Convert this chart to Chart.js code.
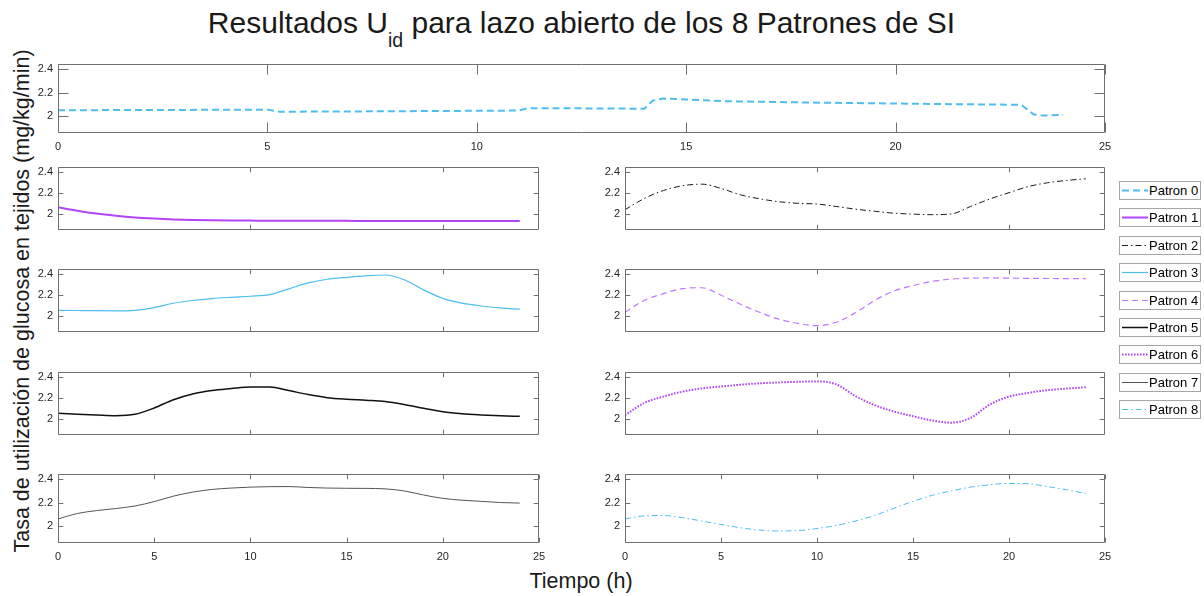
<!DOCTYPE html>
<html>
<head>
<meta charset="utf-8">
<script src="https://cdn.jsdelivr.net/npm/chart.js@4.4.1/dist/chart.umd.min.js"></script>
<style>
  html, body { margin: 0; padding: 0; background: #fff; }
  #fig { position: relative; width: 1204px; height: 596px; overflow: hidden;
         font-family: 'Liberation Sans', Arial, Helvetica, sans-serif; color: #000; }
  #fig canvas.panel { position: absolute; }
  .title { position: absolute; left: 0; width: 1163px; top: 8px; text-align: center;
           font-size: 30px; line-height: 30px; white-space: nowrap; color: #1a1a1a; }
  .title sub { font-size: 19.5px; line-height: 0; vertical-align: -14px; }
  .ylabel { position: absolute; left: 22px; top: 301px; white-space: nowrap;
            font-size: 21.5px; line-height: 22px; color: #1a1a1a;
            transform: translate(-50%, -50%) rotate(-90deg); }
  .xlabel { position: absolute; left: 581px; top: 581px; white-space: nowrap;
            font-size: 21.5px; line-height: 22px; color: #1a1a1a;
            transform: translate(-50%, -50%); }
  .leg { position: absolute; left: 1119px; width: 82px; height: 19px; box-sizing: border-box;
         border: 1px solid #a6a6a6; background: #fff; }
  .leg canvas { position: absolute; left: 1px; top: 0; }
  .leg span { position: absolute; left: 29px; top: 0; font-size: 13px; line-height: 17px;
              white-space: nowrap; color: #000; }
</style>
</head>
<body>
<div id="fig">
  <div class="title">Resultados U<sub>id</sub> para lazo abierto de los 8 Patrones de SI</div>
  <div class="ylabel">Tasa de utilización de glucosa en tejidos (mg/kg/min)</div>
  <div class="xlabel">Tiempo (h)</div>
</div>
<script>
// ---- data -------------------------------------------------------------
const hours = [0, 1, 2, 3, 4, 5, 6, 7, 8, 9, 10, 11, 12, 13, 14, 15, 16, 17, 18, 19, 20, 21, 22, 23, 24];

// Patron 0 has step changes, so it keeps its own time base
const patron0Hours = [0, 2.5, 5, 5.3, 8, 11, 11.2, 12.5, 14, 14.2, 14.45, 15, 16, 17, 18, 20, 22, 23, 23.3, 23.5, 24];
const patron0 = [2.047, 2.049, 2.052, 2.034, 2.038, 2.044, 2.063, 2.063, 2.060, 2.130, 2.148, 2.140,
                 2.124, 2.119, 2.113, 2.105, 2.097, 2.094, 2.010, 2.001, 2.006];

const patron1 = [2.067, 2.035, 2.008, 1.988, 1.972, 1.961, 1.953, 1.948, 1.945, 1.943, 1.942, 1.941,
                 1.941, 1.940, 1.940, 1.940, 1.939, 1.939, 1.939, 1.939, 1.938, 1.938, 1.938, 1.938, 1.938];
const patron2 = [2.044, 2.150, 2.225, 2.270, 2.285, 2.245, 2.185, 2.148, 2.120, 2.105, 2.098, 2.075,
                 2.050, 2.030, 2.012, 2.003, 1.998, 2.005, 2.075, 2.145, 2.205, 2.262, 2.298, 2.320, 2.335];
const patron3 = [2.058, 2.056, 2.054, 2.053, 2.058, 2.083, 2.124, 2.150, 2.168, 2.180, 2.190, 2.205,
                 2.260, 2.315, 2.350, 2.368, 2.382, 2.390, 2.345, 2.250, 2.170, 2.125, 2.098, 2.080, 2.068];
const patron4 = [2.040, 2.150, 2.215, 2.262, 2.270, 2.200, 2.115, 2.040, 1.975, 1.935, 1.913, 1.945,
                 2.035, 2.150, 2.240, 2.290, 2.330, 2.352, 2.361, 2.362, 2.360, 2.358, 2.357, 2.356, 2.355];
const patron5 = [2.058, 2.050, 2.042, 2.035, 2.048, 2.108, 2.186, 2.240, 2.272, 2.290, 2.305, 2.305,
                 2.272, 2.234, 2.205, 2.190, 2.180, 2.168, 2.140, 2.105, 2.072, 2.053, 2.042, 2.034, 2.029];
const patron6 = [2.040, 2.155, 2.215, 2.262, 2.292, 2.310, 2.326, 2.340, 2.348, 2.354, 2.358, 2.330,
                 2.220, 2.135, 2.075, 2.030, 1.990, 1.970, 2.015, 2.140, 2.215, 2.250, 2.275, 2.290, 2.303];
const patron7 = [2.058, 2.105, 2.130, 2.148, 2.170, 2.208, 2.255, 2.290, 2.313, 2.325, 2.333, 2.337,
                 2.338, 2.330, 2.325, 2.323, 2.322, 2.318, 2.300, 2.265, 2.236, 2.220, 2.210, 2.200, 2.195];
const patron8 = [2.058, 2.085, 2.088, 2.068, 2.040, 2.010, 1.982, 1.962, 1.954, 1.958, 1.975, 2.002,
                 2.040, 2.088, 2.150, 2.210, 2.262, 2.300, 2.333, 2.354, 2.365, 2.362, 2.338, 2.310, 2.278];

const seriesNames = ['Patron 0', 'Patron 1', 'Patron 2', 'Patron 3', 'Patron 4',
                     'Patron 5', 'Patron 6', 'Patron 7', 'Patron 8'];

const yTickValues = [2, 2.2, 2.4];
const yTickLabels = ['2', '2.2', '2.4'];
const xTicksFine = [0, 5, 10, 15, 20, 25];
const xTicksCoarse = [0, 10, 20];
const xTickLabels = ['0', '5', '10', '15', '20', '25'];

// ---- styles -----------------------------------------------------------
const FONT = "'Liberation Sans', Arial, Helvetica, sans-serif";
const series = [
  { x: patron0Hours, y: patron0, color: '#4DBEEE', width: 2,   dash: [7, 4],       smooth: false },
  { x: hours, y: patron1, color: '#B146F5', width: 2,   dash: [],           smooth: true },
  { x: hours, y: patron2, color: '#1a1a1a', width: 1,   dash: [6, 3, 1.5, 3], smooth: true },
  { x: hours, y: patron3, color: '#4DBEEE', width: 1.2, dash: [],           smooth: true },
  { x: hours, y: patron4, color: '#C075FF', width: 1.2, dash: [6, 4],       smooth: true },
  { x: hours, y: patron5, color: '#111111', width: 1.5, dash: [],           smooth: true },
  { x: hours, y: patron6, color: '#B146F5', width: 2,   dash: [1.6, 1.4],   smooth: true },
  { x: hours, y: patron7, color: '#555555', width: 1,   dash: [],           smooth: true },
  { x: hours, y: patron8, color: '#4DBEEE', width: 1,   dash: [6, 3, 1.5, 3], smooth: true }
];

// panel rectangles (plot areas) in page pixels
const panels = [
  { s: 0, left: 58,  top: 58,  w: 1047, h: 75, xt: xTicksFine,   labels: true,  tick: 10 },
  { s: 1, left: 58,  top: 161, w: 481,  h: 75, xt: xTicksCoarse, labels: false, tick: 4.8 },
  { s: 2, left: 625, top: 161, w: 480,  h: 75, xt: xTicksCoarse, labels: false, tick: 4.8 },
  { s: 3, left: 58,  top: 263, w: 481,  h: 75, xt: xTicksCoarse, labels: false, tick: 4.8 },
  { s: 4, left: 625, top: 263, w: 480,  h: 75, xt: xTicksCoarse, labels: false, tick: 4.8 },
  { s: 5, left: 58,  top: 366, w: 481,  h: 75, xt: xTicksCoarse, labels: false, tick: 4.8 },
  { s: 6, left: 625, top: 366, w: 480,  h: 75, xt: xTicksCoarse, labels: false, tick: 4.8 },
  { s: 7, left: 58,  top: 468, w: 481,  h: 75, xt: xTicksFine,   labels: true,  tick: 4.8 },
  { s: 8, left: 625, top: 468, w: 480,  h: 75, xt: xTicksFine,   labels: true,  tick: 4.8 }
];

// boxed axes with inward ticks on all four sides
const axesBox = {
  id: 'axesBox',
  afterDraw(chart, args, opts) {
    const { ctx, chartArea: a, scales } = chart;
    const L = Math.round(a.left) + 0.5, R = Math.round(a.right) - 0.5;
    const T = Math.round(a.top) + 0.5, B = Math.round(a.bottom) - 0.5;
    const len = opts.tickLength;
    ctx.save();
    ctx.strokeStyle = '#6f6f6f';
    ctx.lineWidth = 1;
    ctx.setLineDash([]);
    ctx.beginPath();
    ctx.rect(L, T, R - L, B - T);
    scales.x.ticks.forEach(t => {
      const px = Math.round(scales.x.getPixelForValue(t.value)) + 0.5;
      ctx.moveTo(px, B); ctx.lineTo(px, B - len);
      ctx.moveTo(px, T); ctx.lineTo(px, T + len);
    });
    scales.y.ticks.forEach(t => {
      const py = Math.round(scales.y.getPixelForValue(t.value)) + 0.5;
      ctx.moveTo(L, py); ctx.lineTo(L + len, py);
      ctx.moveTo(R, py); ctx.lineTo(R - len, py);
    });
    ctx.stroke();
    ctx.restore();
  }
};

const fig = document.getElementById('fig');
const PAD_L = 45, PAD_R = 14, PAD_T = 6;

panels.forEach(p => {
  const st = series[p.s];
  const padB = p.labels ? 24 : 6;
  const cv = document.createElement('canvas');
  cv.className = 'panel';
  cv.width = p.w + PAD_L + PAD_R;
  cv.height = p.h + PAD_T + padB;
  cv.style.left = (p.left - PAD_L) + 'px';
  cv.style.top = (p.top - PAD_T) + 'px';
  cv.style.width = cv.width + 'px';
  cv.style.height = cv.height + 'px';
  fig.appendChild(cv);

  new Chart(cv, {
    type: 'line',
    data: {
      datasets: [{
        label: seriesNames[p.s],
        data: st.x.map((h, i) => ({ x: h, y: st.y[i] })),
        borderColor: st.color,
        borderWidth: st.width,
        borderDash: st.dash,
        pointRadius: 0,
        fill: false,
        tension: 0,
        cubicInterpolationMode: st.smooth ? 'monotone' : 'default'
      }]
    },
    options: {
      responsive: false,
      animation: false,
      devicePixelRatio: 1,
      events: [],
      layout: { padding: { top: PAD_T, right: PAD_R, left: 0, bottom: 0 } },
      plugins: {
        legend: { display: false },
        tooltip: { enabled: false },
        axesBox: { tickLength: p.tick }
      },
      scales: {
        x: {
          type: 'linear', min: 0, max: 25,
          grid: { display: false, drawTicks: false, tickLength: 0 },
          border: { display: false },
          afterBuildTicks: s => { s.ticks = p.xt.map(v => ({ value: v })); },
          afterFit: s => { s.height = padB; },
          ticks: {
            display: p.labels, autoSkip: false, maxRotation: 0, padding: 7,
            color: '#262626', font: { family: FONT, size: 11 },
            callback: v => xTickLabels[xTicksFine.indexOf(v)]
          }
        },
        y: {
          type: 'linear', min: 1.85, max: 2.45,
          grid: { display: false, drawTicks: false, tickLength: 0 },
          border: { display: false },
          afterBuildTicks: s => { s.ticks = yTickValues.map(v => ({ value: v })); },
          afterFit: s => { s.width = PAD_L; },
          ticks: {
            autoSkip: false, padding: 5,
            color: '#262626', font: { family: FONT, size: 11 },
            callback: v => yTickLabels[yTickValues.indexOf(v)]
          }
        }
      }
    },
    plugins: [axesBox]
  });
});

// legend: one boxed entry per pattern, stacked on the right
series.forEach((st, i) => {
  const box = document.createElement('div');
  box.className = 'leg';
  box.style.top = (181 + i * 27.4) + 'px';
  const c = document.createElement('canvas');
  c.width = 27; c.height = 17;
  const g = c.getContext('2d');
  g.strokeStyle = st.color;
  g.lineWidth = st.width;
  g.setLineDash(st.dash);
  g.beginPath();
  g.moveTo(1, 8.5); g.lineTo(27, 8.5);
  g.stroke();
  const t = document.createElement('span');
  t.textContent = seriesNames[i];
  box.appendChild(c);
  box.appendChild(t);
  fig.appendChild(box);
});
</script>
</body>
</html>
